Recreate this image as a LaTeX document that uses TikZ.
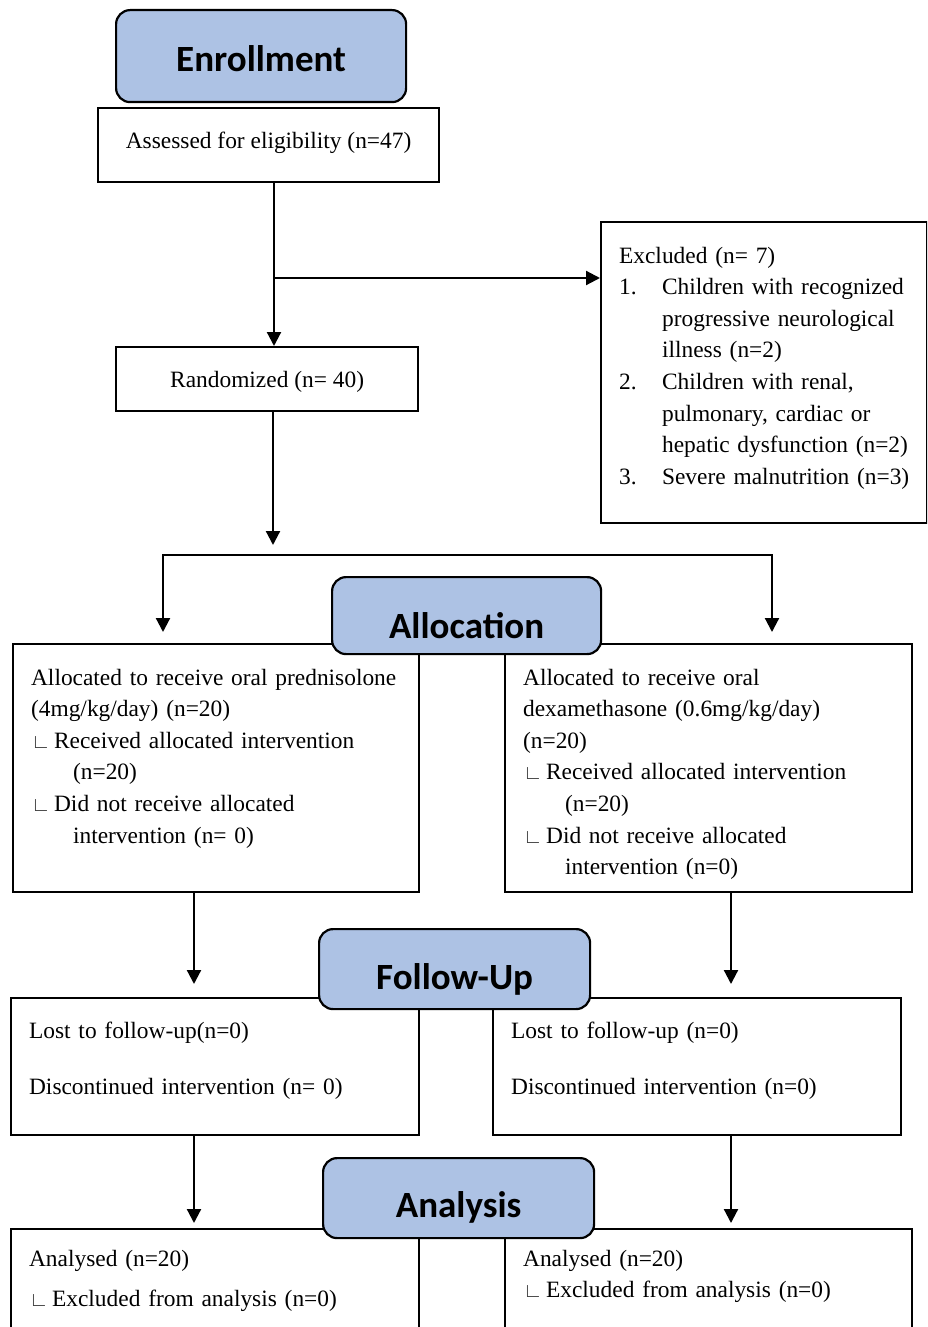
\documentclass[tikz,border=0pt]{standalone}
\usepackage{fontspec}
\setmainfont{Liberation Serif}
\newfontfamily\headfont{Carlito}
\usetikzlibrary{arrows.meta,positioning,calc}
\definecolor{headblue}{RGB}{173,194,228}
% numbered line and indented sub line of a box
\newcommand{\numitem}[2]{\mbox{\makebox[43pt][l]{#1}#2}}
\newcommand{\armline}[1]{\mbox{\makebox[23pt][l]{\textcolor{black!75}{\fontsize{20}{20}\selectfont ∟}}#1}}
\newcommand{\armcont}[1]{\mbox{\hspace*{42pt}#1}}

\begin{document}
\begin{tikzpicture}[%
    x=1pt, y=-1pt,              % Work in pixels, going down the page
    >={Triangle[length=14pt,width=14pt]}, % Filled arrow heads
    line width=2.2pt,
    ]
% -------------------------------------------------
% Box styles
\tikzset{
  base/.style={draw, line width=2.2pt, anchor=north west, inner ysep=0pt},
  box/.style={base, inner xsep=18pt, align=left,
    font=\fontsize{23.4}{31.6}\selectfont},
  single/.style={base, inner xsep=0pt, align=center,
    font=\fontsize{23.4}{31.6}\selectfont},
  head/.style={base, fill=headblue, rounded corners=14pt, inner xsep=0pt,
    font=\headfont\bfseries\fontsize{37}{42}\selectfont},
  arr/.style={->, draw},
}
\useasboundingbox (0,0) rectangle (927,1327);
\clip (0,0) rectangle (927,1327);
% -------------------------------------------------
% Enrollment
\node[head, minimum width=290pt, text height=61pt, text depth=31pt] (enrol) at (115,9) {Enrollment};
\node[single, minimum width=341pt, text height=40pt, text depth=34pt] (assess) at (97,107) {Assessed for eligibility (n=47)};
\node[single, minimum width=302pt, text height=40pt, text depth=24pt] (rand) at (115,346) {Randomized (n= 40)};
\node[box, text width=290pt, text height=41pt, text depth=260pt] (excl) at (600,221) {Excluded (n= 7)\\
  \numitem{1.}{Children with recognized}\\
  \numitem{}{progressive neurological}\\
  \numitem{}{illness (n=2)}\\
  \numitem{2.}{Children with renal,}\\
  \numitem{}{pulmonary, cardiac or}\\
  \numitem{}{hepatic dysfunction (n=2)}\\
  \numitem{3.}{Severe malnutrition (n=3)}};

% Allocation
\node[box, text width=370pt, text height=41pt, text depth=207pt] (alloL) at (12,643) {Allocated to receive oral prednisolone\\
  (4mg/kg/day) (n=20)\\
  \armline{Received allocated intervention}\\
  \armcont{(n=20)}\\
  \armline{Did not receive allocated}\\
  \armcont{intervention (n= 0)}};
\node[box, text width=371pt, text height=41pt, text depth=207pt] (alloR) at (504,643) {Allocated to receive oral\\
  dexamethasone (0.6mg/kg/day)\\
  (n=20)\\
  \armline{Received allocated intervention}\\
  \armcont{(n=20)}\\
  \armline{Did not receive allocated}\\
  \armcont{intervention (n=0)}};

% Follow-up
\node[box, text width=372pt, text height=40pt, text depth=97pt] (fuL) at (10,997) {Lost to follow-up(n=0)\\[24.4pt]
  Discontinued intervention (n= 0)};
\node[box, text width=372pt, text height=40pt, text depth=97pt] (fuR) at (492,997) {Lost to follow-up (n=0)\\[24.4pt]
  Discontinued intervention (n=0)};

% Analysis
\node[box, text width=372pt, text height=37pt, text depth=95pt] (anL) at (10,1228) {Analysed (n=20)\\[8.4pt]
  \armline{Excluded from analysis (n=0)}};
\node[box, text width=371pt, text height=37pt, text depth=95pt] (anR) at (504,1228) {Analysed (n=20)\\
  \armline{Excluded from analysis (n=0)}};

% Stage headings sit on top of the boxes
\node[head, minimum width=269pt, text height=61pt, text depth=16pt] (alloc) at (331,576) {Allocation};
\node[head, minimum width=271pt, text height=60pt, text depth=20pt] (follow) at (318,928) {Follow-Up};
\node[head, minimum width=271pt, text height=59pt, text depth=21pt] (analys) at (322,1157) {Analysis};

% -------------------------------------------------
% Connectors
\coordinate (split) at (274,278);
\draw[arr] (assess.south -| split) -- (rand.north -| split);
\draw[arr] (split) -- (excl.west |- split);

\coordinate (fork) at (273,545);
\draw[arr] (rand.south -| fork) -- (fork);
\coordinate (forkL) at (163,555);
\coordinate (forkR) at (772,555);
\draw[<->] ($(forkL |- alloL.north)+(0,-11)$) -- (forkL) -- (forkR) -- ($(forkR |- alloR.north)+(0,-11)$);

\coordinate (colL) at (194,0);
\coordinate (colR) at (731,0);
\draw[arr] (alloL.south -| colL) -- ($(colL |- fuL.north)+(0,-13)$);
\draw[arr] (alloR.south -| colR) -- ($(colR |- fuR.north)+(0,-13)$);
\draw[arr] (fuL.south -| colL) -- ($(colL |- anL.north)+(0,-5)$);
\draw[arr] (fuR.south -| colR) -- ($(colR |- anR.north)+(0,-5)$);
% -------------------------------------------------
\end{tikzpicture}
\end{document}
